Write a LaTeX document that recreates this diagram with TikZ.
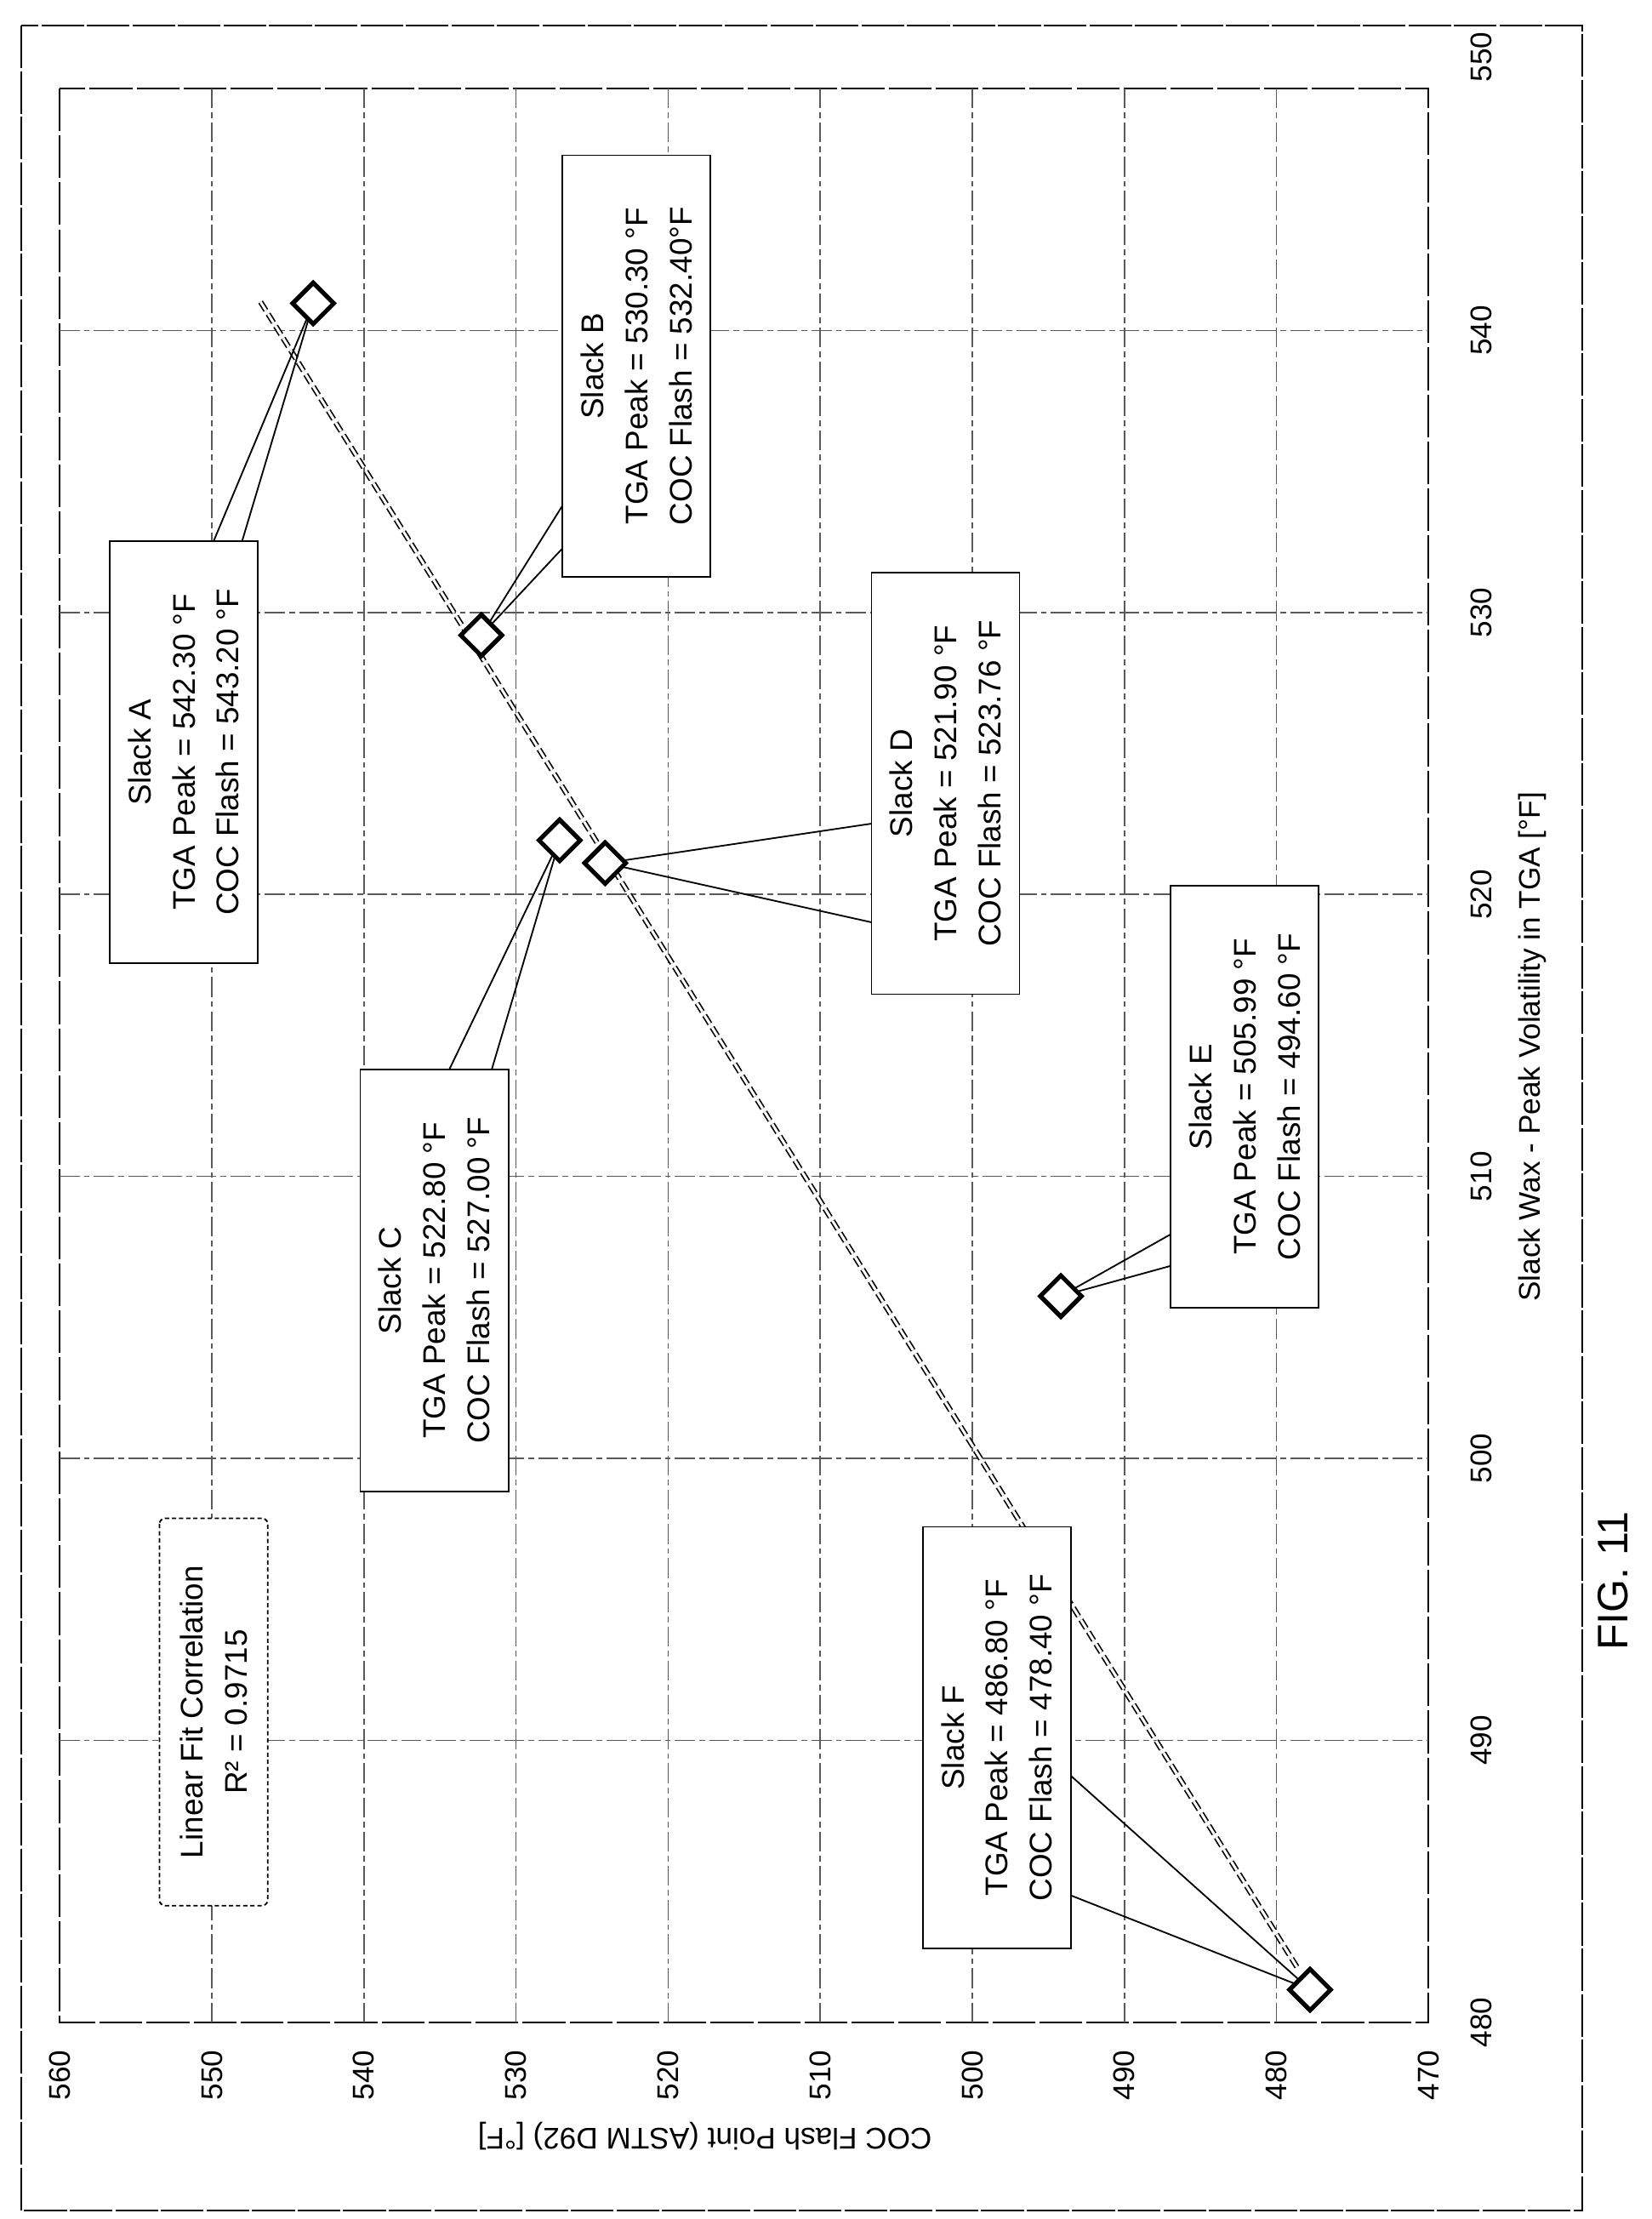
\documentclass[tikz,border=0pt]{standalone}
\usepackage{fontspec}
\setmainfont{Liberation Sans}
\usetikzlibrary{shapes.geometric}
\begin{document}
\begin{tikzpicture}[x=1pt,y=-1pt,
  grid/.style={gray!70!black,line width=0.9pt,dash pattern=on 14pt off 3pt on 4pt off 3pt},
  tick/.style={font=\fontsize{21}{24}\selectfont,rotate=90},
  pt/.style={diamond,draw,line width=3pt,minimum size=30pt,inner sep=0pt},
  lab/.style={draw,line width=1.1pt,rotate=90,align=center,font=\fontsize{22}{31}\selectfont,minimum width=296pt,minimum height=104pt,inner sep=2pt,fill=white},
  lead/.style={line width=1.1pt},
  trend/.style={line width=1pt,double,double distance=1.8pt,dash pattern=on 7pt off 3pt}]
\useasboundingbox (0,0) rectangle (1160,1558);
\draw[line width=1.2pt,dash pattern=on 30pt off 2pt] (15,18) rectangle (1111,1552);
\draw[line width=1.1pt,dash pattern=on 30pt off 3pt] (42,62) rectangle (1003,1420);
\draw[grid] (42,232) -- (1003,232);
\draw[grid] (42,430) -- (1003,430);
\draw[grid] (42,628) -- (1003,628);
\draw[grid] (42,826) -- (1003,826);
\draw[grid] (42,1024) -- (1003,1024);
\draw[grid] (42,1222) -- (1003,1222);
\draw[grid] (148.8,62) -- (148.8,1420);
\draw[grid] (255.6,62) -- (255.6,1420);
\draw[grid] (362.4,62) -- (362.4,1420);
\draw[grid] (469.2,62) -- (469.2,1420);
\draw[grid] (576,62) -- (576,1420);
\draw[grid] (682.8,62) -- (682.8,1420);
\draw[grid] (789.6,62) -- (789.6,1420);
\draw[grid] (896.4,62) -- (896.4,1420);
\node[tick] (c560) at (42,1457) {560};
\node[tick] (c550) at (148.8,1457) {550};
\node[tick] (c540) at (255.6,1457) {540};
\node[tick] (c530) at (362.4,1457) {530};
\node[tick] (c520) at (469.2,1457) {520};
\node[tick] (c510) at (576,1457) {510};
\node[tick] (c500) at (682.8,1457) {500};
\node[tick] (c490) at (789.6,1457) {490};
\node[tick] (c480) at (896.4,1457) {480};
\node[tick] (c470) at (1003,1457) {470};
\node[tick] (t550) at (1040,40) {550};
\node[tick] (t540) at (1040,232) {540};
\node[tick] (t530) at (1040,430) {530};
\node[tick] (t520) at (1040,628) {520};
\node[tick] (t510) at (1040,826) {510};
\node[tick] (t500) at (1040,1024) {500};
\node[tick] (t490) at (1040,1222) {490};
\node[tick] (t480) at (1040,1420) {480};
\node[font=\fontsize{21}{24}\selectfont,rotate=180] (ytitle) at (495,1500) {COC Flash Point (ASTM D92) [°F]};
\node[font=\fontsize{21}{24}\selectfont,rotate=90] (xtitle) at (1076,735) {Slack Wax - Peak Volatility in TGA [°F]};
\node[font=\fontsize{30}{34}\selectfont,rotate=90] (fig) at (1133,1110) {FIG. 11};
\coordinate (tr1) at (183,212);
\coordinate (tr2) at (912,1383);
\draw[trend] (tr1) -- (tr2);
\node[pt] (A) at (220,213) {};
\node[pt] (B) at (338,446) {};
\node[pt] (C) at (393,590) {};
\node[pt] (D) at (425,606) {};
\node[pt] (E) at (745,910) {};
\node[pt] (F) at (920,1397) {};
\coordinate (a1) at (150,380); \coordinate (a2) at (170,380);
\coordinate (b1) at (395,355); \coordinate (b2) at (395,385);
\coordinate (cc1) at (315,752); \coordinate (cc2) at (345,752);
\coordinate (d1) at (614,578); \coordinate (d2) at (614,648);
\coordinate (e1) at (825,865); \coordinate (e2) at (825,888);
\coordinate (f1) at (750,1245); \coordinate (f2) at (750,1330);
\draw[lead] (a1) -- (A.center) (a2) -- (A.center);
\draw[lead] (b1) -- (B.center) (b2) -- (B.center);
\draw[lead] (cc1) -- (C.center) (cc2) -- (C.center);
\draw[lead] (d1) -- (D.center) (d2) -- (D.center);
\draw[lead] (e1) -- (E.center) (e2) -- (E.center);
\draw[lead] (f1) -- (F.center) (f2) -- (F.center);
\node[pt,fill=white] at (A) {};
\node[pt,fill=white] at (B) {};
\node[pt,fill=white] at (C) {};
\node[pt,fill=white] at (D) {};
\node[pt,fill=white] at (E) {};
\node[pt,fill=white] at (F) {};
\node[lab] (LA) at (129,528) {Slack A\\TGA Peak = 542.30 °F\\COC Flash = 543.20 °F};
\node[lab] (LB) at (447,257) {Slack B\\TGA Peak = 530.30 °F\\COC Flash = 532.40°F};
\node[lab] (LC) at (305,899) {Slack C\\TGA Peak = 522.80 °F\\COC Flash = 527.00 °F};
\node[lab] (LD) at (664,550) {Slack D\\TGA Peak = 521.90 °F\\COC Flash = 523.76 °F};
\node[lab] (LE) at (874,770) {Slack E\\TGA Peak = 505.99 °F\\COC Flash = 494.60 °F};
\node[lab] (LF) at (700,1220) {Slack F\\TGA Peak = 486.80 °F\\COC Flash = 478.40 °F};
\node[draw,line width=1.1pt,dash pattern=on 3pt off 2pt,rounded corners=4pt,rotate=90,align=center,fill=white,
  font=\fontsize{22}{31}\selectfont,minimum width=272pt,minimum height=76pt] (R) at (150,1202) {Linear Fit Correlation\\R² = 0.9715};
\end{tikzpicture}
\end{document}
